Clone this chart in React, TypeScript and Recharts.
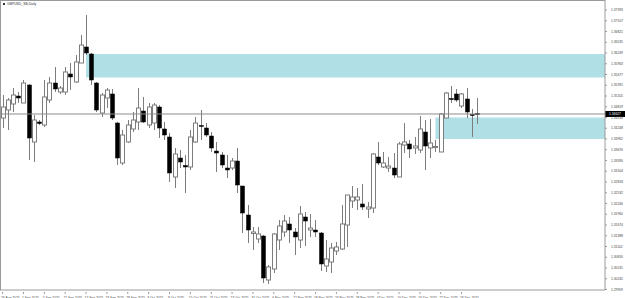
import { ComposedChart, Bar, XAxis, YAxis, ReferenceArea, ReferenceLine } from "recharts";

const TITLE = "GBPUSD_SB,Daily";

// one label every 4 daily bars
const DATE_LABELS = [
  "26 Aug 2025", "1 Sep 2025", "5 Sep 2025", "11 Sep 2025", "17 Sep 2025", "23 Sep 2025",
  "29 Sep 2025", "3 Oct 2025", "9 Oct 2025", "15 Oct 2025", "21 Oct 2025", "27 Oct 2025",
  "31 Oct 2025", "6 Nov 2025", "12 Nov 2025", "18 Nov 2025", "24 Nov 2025", "28 Nov 2025",
  "4 Dec 2025", "10 Dec 2025", "16 Dec 2025", "22 Dec 2025", "26 Dec 2025",
];

const OPEN = [
  1.3452, 1.34733, 1.34893, 1.35105, 1.34919, 1.35398, 1.33882, 1.34414, 1.34334, 1.34999,
  1.35451, 1.35212, 1.35212, 1.35691, 1.35478, 1.35983, 1.36409, 1.36223, 1.35451, 1.34653,
  1.35052, 1.35159, 1.34387, 1.33323, 1.33882, 1.34228, 1.34414, 1.34706, 1.34334, 1.34387,
  1.34813, 1.34228, 1.34015, 1.32951, 1.33456, 1.33257, 1.33217, 1.33882, 1.34321, 1.34254,
  1.34041, 1.33642, 1.33536, 1.3319, 1.3319, 1.33376, 1.32711, 1.3194, 1.31448, 1.31302,
  1.31381, 1.30211, 1.30504, 1.31275, 1.31488, 1.31701, 1.31488, 1.31275, 1.31887, 1.31541,
  1.31541, 1.31461, 1.30583, 1.3069, 1.30982, 1.31036, 1.31674, 1.32312, 1.32339, 1.32233,
  1.321, 1.32126, 1.33483, 1.33217, 1.3319, 1.3319, 1.32951, 1.33802, 1.33829, 1.33722,
  1.33669, 1.34148, 1.33722, 1.33736, 1.33616, 1.3452, 1.35039, 1.35159, 1.34839, 1.35026,
  1.34613, 1.3464,
];
const HIGH = [
  1.35132, 1.35052, 1.35318, 1.35212, 1.35531, 1.35425, 1.346, 1.34467, 1.35531, 1.35611,
  1.35877, 1.35371, 1.35877, 1.35983, 1.36196, 1.36728, 1.3726, 1.36249, 1.35478, 1.35185,
  1.35318, 1.35292, 1.34414, 1.34201, 1.34467, 1.3468, 1.35318, 1.35079, 1.34919, 1.34919,
  1.34866, 1.34414, 1.34121, 1.33722, 1.33669, 1.33536, 1.34201, 1.34547, 1.34733, 1.34387,
  1.34148, 1.33882, 1.33616, 1.33536, 1.33456, 1.33722, 1.32711, 1.32206, 1.31621, 1.31621,
  1.31408, 1.3061, 1.31461, 1.31807, 1.3194, 1.31887, 1.31594, 1.32179, 1.3202, 1.31967,
  1.31807, 1.31488, 1.31275, 1.31195, 1.31222, 1.32206, 1.32472, 1.32711, 1.32658, 1.32765,
  1.32286, 1.33589, 1.33882, 1.33616, 1.33483, 1.33589, 1.33882, 1.34387, 1.33935, 1.34015,
  1.34574, 1.34467, 1.34494, 1.33935, 1.34653, 1.35212, 1.35371, 1.35292, 1.35185, 1.35318,
  1.3476, 1.35052,
];
const LOW = [
  1.34254, 1.34201, 1.3468, 1.34919, 1.34919, 1.33403, 1.3335, 1.34334, 1.34281, 1.34919,
  1.35212, 1.35159, 1.35132, 1.35265, 1.35451, 1.35983, 1.36196, 1.35398, 1.3468, 1.34547,
  1.34786, 1.34467, 1.3327, 1.3327, 1.33855, 1.34148, 1.34201, 1.34387, 1.34254, 1.34201,
  1.33988, 1.33935, 1.32818, 1.32658, 1.3319, 1.32525, 1.33137, 1.33855, 1.33935, 1.34015,
  1.33616, 1.33084, 1.3319, 1.32924, 1.33137, 1.32525, 1.31461, 1.31195, 1.31009, 1.31195,
  1.30131, 1.30105, 1.30397, 1.31009, 1.31355, 1.31195, 1.30876, 1.31062, 1.31115, 1.31355,
  1.31355, 1.3045, 1.30424, 1.30397, 1.30876, 1.31009, 1.31089, 1.32126, 1.32073, 1.32073,
  1.3186, 1.31993, 1.3327, 1.3319, 1.33084, 1.32924, 1.32951, 1.33589, 1.33456, 1.33563,
  1.33589, 1.33137, 1.33456, 1.33616, 1.33616, 1.3452, 1.34919, 1.34946, 1.34786, 1.3452,
  1.34015, 1.34361,
];
const CLOSE = [
  1.34813, 1.34999, 1.35132, 1.35052, 1.35451, 1.33988, 1.34467, 1.34374, 1.35079, 1.35451,
  1.35292, 1.35318, 1.35744, 1.35611, 1.3601, 1.36462, 1.36249, 1.35531, 1.34733, 1.35132,
  1.35265, 1.3452, 1.33456, 1.34068, 1.34334, 1.34467, 1.34786, 1.34414, 1.34813, 1.34866,
  1.34254, 1.34068, 1.33057, 1.33563, 1.3335, 1.33217, 1.34015, 1.34387, 1.34294, 1.34068,
  1.33722, 1.33589, 1.3327, 1.33137, 1.33376, 1.32738, 1.31993, 1.31541, 1.31488, 1.31435,
  1.30264, 1.30557, 1.31435, 1.31647, 1.3178, 1.31541, 1.31355, 1.31967, 1.3178, 1.31594,
  1.31488, 1.30637, 1.3077, 1.31062, 1.31089, 1.31701, 1.32472, 1.32419, 1.32419, 1.32153,
  1.32153, 1.33563, 1.33323, 1.33323, 1.33243, 1.33004, 1.33829, 1.33882, 1.33696, 1.33775,
  1.34228, 1.33775, 1.33855, 1.33762, 1.34627, 1.35185, 1.35012, 1.34999, 1.35159, 1.3468,
  1.34587, 1.34627,
];

const LAST_PRICE = 1.34627;

const PRICE_TICKS = [
  1.37393, 1.37107, 1.36821, 1.36535, 1.36249, 1.35963, 1.35677, 1.35391, 1.35105,
  1.34819, 1.34534, 1.34248, 1.33962, 1.33676, 1.3339, 1.33104, 1.32818, 1.32532,
  1.32246, 1.3196, 1.31674, 1.31388, 1.31102, 1.30816, 1.30531, 1.30245, 1.29959,
];

// supply / demand zones: bar index where they start, price band
const ZONE_START = [16, 83];
const ZONE_TOP = [1.36223, 1.34534];
const ZONE_BOTTOM = [1.35598, 1.33962];

const EMPTY_SLOTS = 24; // chart shift on the right

const Y_DOMAIN = [1.29945, 1.37659];
const FRAME = "#9a9a9a";
const WICK = "#7d7d7d";
const ZONE_FILL = "#b0e0e6";
const FONT = "'Liberation Sans', Arial, sans-serif";

type Row = { i: number; o?: number; h?: number; l?: number; c?: number };

const SLOTS = OPEN.length + EMPTY_SLOTS;
const data: Row[] = Array.from({ length: SLOTS }, (_, i) =>
  i < OPEN.length ? { i, o: OPEN[i], h: HIGH[i], l: LOW[i], c: CLOSE[i] } : { i }
);

function Candle(props: any) {
  const { x, y, width, height, payload } = props;
  if (!payload || payload.o == null || height == null) return null;
  const { o, h, l, c } = payload;
  const top = Math.min(y, y + height);
  const span = Math.abs(height);
  const py = (p: number) => top + ((h - p) / (h - l)) * span;
  const cx = Math.round(x + width / 2) + 0.5;
  const bull = c >= o;
  const bTop = py(Math.max(o, c));
  const bH = Math.max(py(Math.min(o, c)) - bTop, 1);
  return (
    <g>
      <line x1={cx} x2={cx} y1={top} y2={top + span} stroke={WICK} strokeWidth={1} />
      <rect
        x={cx - 2}
        y={bTop}
        width={4}
        height={bH}
        fill={bull ? "#ffffff" : "#000000"}
        stroke={bull ? WICK : "#000000"}
        strokeWidth={bull ? 1 : 0.5}
      />
    </g>
  );
}

function DateTick(props: any) {
  const { x, y, payload } = props;
  const i = payload?.value;
  if (i % 4 !== 0 || i / 4 >= DATE_LABELS.length) return null;
  return (
    <g>
      <line x1={x} x2={x} y1={y - 2} y2={y} stroke={FRAME} />
      <text x={x - 1.5} y={y + 4.5} fontSize={3.3} fill="#444" fontFamily={FONT}>
        {DATE_LABELS[i / 4]}
      </text>
    </g>
  );
}

function PriceTick(props: any) {
  const { x, y, payload } = props;
  return (
    <text x={x} y={y + 1.2} fontSize={3.3} fill="#444" fontFamily={FONT}>
      {payload.value.toFixed(5)}
    </text>
  );
}

function LastPriceLabel(props: any) {
  const vb = props.viewBox;
  if (!vb) return null;
  const x0 = vb.x + vb.width;
  return (
    <g>
      <rect x={x0} y={vb.y - 3} width={20} height={6} fill="#000" />
      <text x={x0 + 4} y={vb.y + 1.2} fontSize={3.3} fill="#fff" fontFamily={FONT}>
        {LAST_PRICE.toFixed(5)}
      </text>
    </g>
  );
}

export default function App() {
  return (
    <div style={{ position: "fixed", left: 0, top: 0, width: 625, height: 298, background: "#fff" }}>
      <ComposedChart
        width={625}
        height={298}
        data={data}
        margin={{ top: 0, right: 0, bottom: 0, left: 0 }}
        barCategoryGap={1}
      >
        <XAxis
          dataKey="i"
          type="category"
          interval={0}
          height={8}
          tickSize={2}
          tickLine={false}
          axisLine={{ stroke: FRAME }}
          tick={<DateTick />}
        />
        <XAxis xAxisId="n" dataKey="i" type="number" domain={[-0.5, SLOTS - 0.5]} hide allowDataOverflow />
        <YAxis
          orientation="right"
          type="number"
          domain={Y_DOMAIN}
          ticks={PRICE_TICKS}
          interval={0}
          allowDataOverflow
          width={20}
          tickSize={2}
          tickMargin={4}
          tickLine={{ stroke: FRAME }}
          axisLine={{ stroke: FRAME }}
          tick={<PriceTick />}
        />
        {ZONE_START.map((s, k) => (
          <ReferenceArea
            key={k}
            xAxisId="n"
            x1={s}
            x2={SLOTS - 0.5}
            y1={ZONE_BOTTOM[k]}
            y2={ZONE_TOP[k]}
            fill={ZONE_FILL}
            fillOpacity={1}
            stroke="none"
          />
        ))}
        <ReferenceLine y={LAST_PRICE} stroke="#8c8c8c" strokeWidth={1} label={<LastPriceLabel />} />
        <Bar
          dataKey={(d: Row) => (d.o == null ? null : [d.l, d.h])}
          shape={<Candle />}
          isAnimationActive={false}
        />
      </ComposedChart>
      <div
        style={{
          position: "absolute", left: 0, top: 0, width: 605, height: 290,
          borderLeft: `1px solid ${FRAME}`, borderTop: `1px solid ${FRAME}`,
          boxSizing: "border-box", pointerEvents: "none",
        }}
      />
      <div
        style={{
          position: "absolute", left: 3, top: 2, fontSize: 3.4, lineHeight: "4px",
          fontFamily: FONT, color: "#333", whiteSpace: "nowrap",
        }}
      >
        <span style={{ display: "inline-block", width: 2, height: 2, background: "#333", marginRight: 2 }} />
        {TITLE}
      </div>
    </div>
  );
}
